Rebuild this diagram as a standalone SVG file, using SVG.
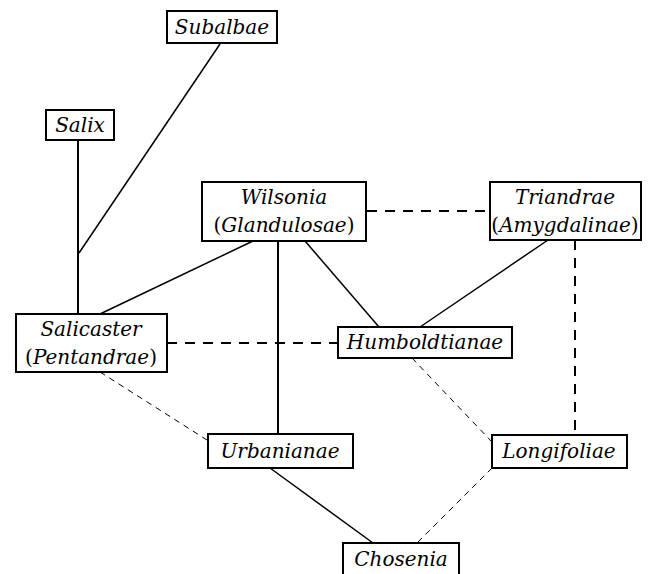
<svg xmlns="http://www.w3.org/2000/svg" width="656" height="574" viewBox="0 0 656 574">
<style>
.box{fill:#fff;stroke:#000;stroke-width:2}
.solid{stroke:#000;stroke-width:1.5;fill:none}
.thick{stroke:#000;stroke-width:2;fill:none}
.dash{stroke:#000;stroke-width:2;stroke-dasharray:10 8;fill:none}
.thin{stroke:#000;stroke-width:1;stroke-dasharray:6 5;fill:none}
</style>
<g id="connectors">
<line class="thick" x1="78" y1="140" x2="78" y2="314"/>
<line class="solid" x1="220" y1="44" x2="79" y2="253"/>
<line class="solid" x1="253" y1="241" x2="100" y2="314"/>
<line class="thick" x1="278" y1="241" x2="278" y2="434"/>
<line class="solid" x1="305" y1="241" x2="379" y2="327"/>
<line class="solid" x1="548" y1="240" x2="420" y2="327"/>
<line class="dash" x1="367" y1="211" x2="490" y2="211"/>
<line class="dash" x1="575" y1="240" x2="575" y2="435"/>
<line class="dash" x1="167" y1="343" x2="338" y2="343"/>
<line class="thin" x1="100" y1="372" x2="207" y2="440"/>
<line class="thin" x1="412" y1="358" x2="492" y2="442"/>
<line class="solid" x1="270" y1="468" x2="373" y2="543"/>
<line class="thin" x1="492" y1="468" x2="417" y2="543"/>
</g>
<g font-family="DejaVu Serif, Liberation Serif, serif" font-size="20" font-style="italic" text-anchor="middle" fill="#000">
<g id="subalbae"><rect class="box" x="167" y="11" width="110" height="32"/><text x="222" y="34">Subalbae</text></g>
<g id="salix"><rect class="box" x="46" y="110" width="68" height="30"/><text x="80" y="132">Salix</text></g>
<g id="wilsonia"><rect class="box" x="202" y="182" width="164" height="59"/><text x="284" y="204">Wilsonia</text><text x="284" y="232"><tspan font-style="normal">(</tspan>Glandulosae<tspan font-style="normal">)</tspan></text></g>
<g id="triandrae"><rect class="box" x="490" y="182" width="151" height="58"/><text x="565" y="204">Triandrae</text><text x="565" y="232"><tspan font-style="normal">(</tspan>Amygdalinae<tspan font-style="normal">)</tspan></text></g>
<g id="salicaster"><rect class="box" x="16" y="314" width="151" height="58"/><text x="91" y="336">Salicaster</text><text x="91" y="364"><tspan font-style="normal">(</tspan>Pentandrae<tspan font-style="normal">)</tspan></text></g>
<g id="humboldtianae"><rect class="box" x="338" y="327" width="174" height="31"/><text x="425" y="349">Humboldtianae</text></g>
<g id="urbanianae"><rect class="box" x="208" y="434" width="145" height="34"/><text x="280" y="458">Urbanianae</text></g>
<g id="longifoliae"><rect class="box" x="492" y="435" width="135" height="33"/><text x="559" y="458">Longifoliae</text></g>
<g id="chosenia"><rect class="box" x="343" y="543" width="116" height="40"/><text x="401" y="566">Chosenia</text></g>
</g>
</svg>
